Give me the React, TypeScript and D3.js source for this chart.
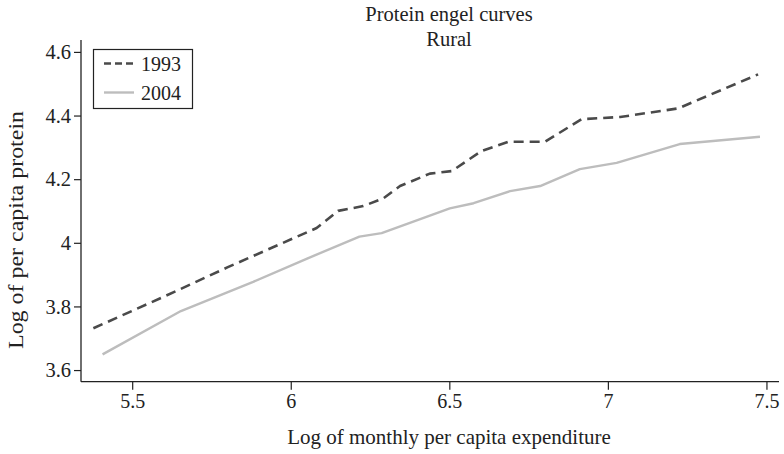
import React from "react";
import * as d3 from "d3";

const title = "Protein engel curves";
const subtitle = "Rural";
const xLabel = "Log of monthly per capita expenditure";
const yLabel = "Log of per capita protein";

const seriesNames = ["1993", "2004"];

const x1993 = [5.376, 5.6, 5.8, 6.08, 6.148, 6.227, 6.29, 6.343, 6.437, 6.506, 6.6, 6.684, 6.8, 6.915, 7.037, 7.22, 7.472];
const y1993 = [3.733, 3.833, 3.925, 4.048, 4.102, 4.117, 4.141, 4.18, 4.219, 4.227, 4.29, 4.319, 4.319, 4.39, 4.397, 4.424, 4.531];

const x2004 = [5.405, 5.652, 5.88, 6.05, 6.215, 6.285, 6.5, 6.575, 6.69, 6.785, 6.91, 7.026, 7.225, 7.478];
const y2004 = [3.651, 3.787, 3.879, 3.952, 4.021, 4.032, 4.11, 4.126, 4.164, 4.18, 4.233, 4.253, 4.312, 4.335];

const xTicks = [5.5, 6, 6.5, 7, 7.5];
const yTicks = [3.6, 3.8, 4, 4.2, 4.4, 4.6];

const W = 784;
const H = 454;
const FONT = "'Liberation Serif', 'DejaVu Serif', serif";

export default function App() {
  const left = 81, right = 779, top = 40, bottom = 381.7;
  const x = d3.scaleLinear().domain([5.337, 7.538]).range([left, right]);
  const y = d3.scaleLinear().domain([3.565, 4.639]).range([bottom, top]);

  const line = d3
    .line<[number, number]>()
    .x((d) => x(d[0]))
    .y((d) => y(d[1]));

  const d1993 = line(x1993.map((v, i) => [v, y1993[i]] as [number, number])) || "";
  const d2004 = line(x2004.map((v, i) => [v, y2004[i]] as [number, number])) || "";

  const axisColor = "#222";
  const textColor = "#222";

  return (
    <svg
      width={W}
      height={H}
      style={{ position: "absolute", left: 0, top: 0, background: "#fff" }}
      fontFamily={FONT}
    >
      <rect x={0} y={0} width={W} height={H} fill="#fff" />
      {/* Title */}
      <text x={449} y={21} textAnchor="middle" fontSize={20.5} fill={textColor}>
        {title}
      </text>
      <text x={449} y={46} textAnchor="middle" fontSize={20.5} fill={textColor}>
        {subtitle}
      </text>

      {/* Lines */}
      <path d={d2004} fill="none" stroke="#bdbdbd" strokeWidth={2.4} strokeLinejoin="round" />
      <path
        d={d1993}
        fill="none"
        stroke="#4a4a4a"
        strokeWidth={2.6}
        strokeDasharray="10,6"
        strokeLinejoin="round"
      />

      {/* Axes */}
      <line x1={left} x2={left} y1={top} y2={bottom} stroke={axisColor} strokeWidth={1.3} />
      <line x1={left} x2={right} y1={bottom} y2={bottom} stroke={axisColor} strokeWidth={1.3} />

      {yTicks.map((t) => (
        <g key={"y" + t}>
          <line x1={left - 7} x2={left} y1={y(t)} y2={y(t)} stroke={axisColor} strokeWidth={1.2} />
          <text
            x={left - 10}
            y={y(t)}
            dy="0.33em"
            textAnchor="end"
            fontSize={20.5}
            fill={textColor}
          >
            {d3.format("~g")(t)}
          </text>
        </g>
      ))}
      {xTicks.map((t) => (
        <g key={"x" + t}>
          <line x1={x(t)} x2={x(t)} y1={bottom} y2={bottom + 8} stroke={axisColor} strokeWidth={1.2} />
          <text x={x(t)} y={bottom + 26} textAnchor="middle" fontSize={20} fill={textColor}>
            {d3.format("~g")(t)}
          </text>
        </g>
      ))}

      {/* Axis labels */}
      <text
        x={(286 + 612) / 2}
        y={444}
        textAnchor="middle"
        fontSize={21}
        fill={textColor}
      >
        {xLabel}
      </text>
      <text
        transform={`translate(23, 230) rotate(-90)`}
        textAnchor="middle"
        fontSize={21}
        textLength={238}
        lengthAdjust="spacingAndGlyphs"
        fill={textColor}
      >
        {yLabel}
      </text>

      {/* Legend */}
      <rect x={93.5} y={49.5} width={99} height={59} fill="#fff" stroke={axisColor} strokeWidth={1.2} />
      <line x1={104} x2={134} y1={63.5} y2={63.5} stroke="#4a4a4a" strokeWidth={2.6} strokeDasharray="7,4" />
      <text x={141} y={70.5} fontSize={20} fill={textColor}>
        {seriesNames[0]}
      </text>
      <line x1={104} x2={134} y1={92.5} y2={92.5} stroke="#bdbdbd" strokeWidth={2.4} />
      <text x={141} y={99.5} fontSize={20} fill={textColor}>
        {seriesNames[1]}
      </text>
    </svg>
  );
}
